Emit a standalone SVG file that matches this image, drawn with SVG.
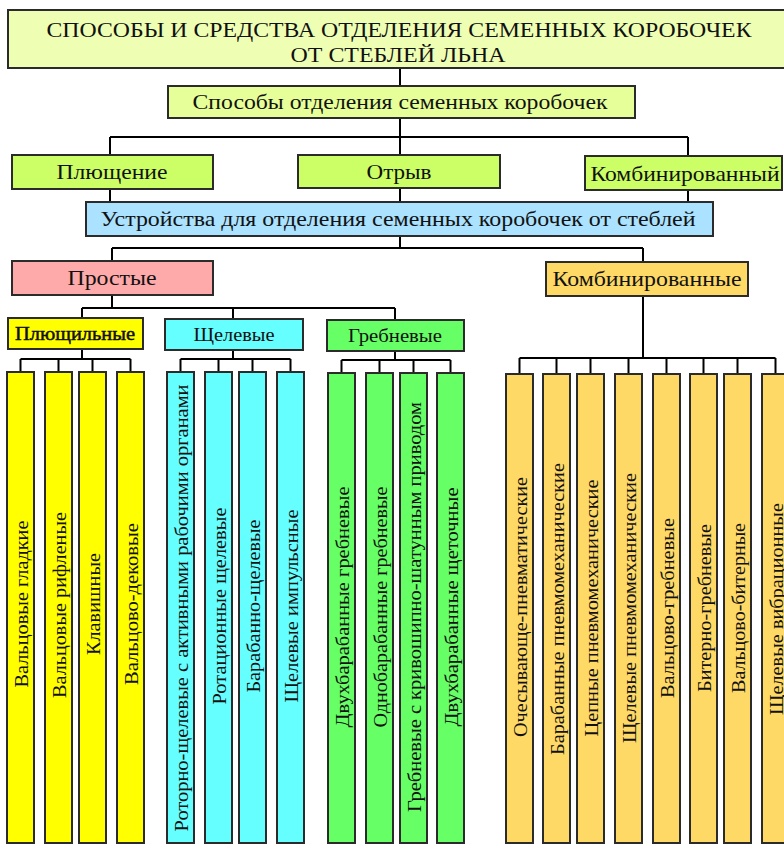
<svg xmlns="http://www.w3.org/2000/svg" width="784" height="845" viewBox="0 0 784 845">
<style>
  .b { stroke: #2b2b2b; stroke-width: 2; }
  .t { font-family: "Liberation Serif", "DejaVu Serif", serif; fill: #111; text-anchor: middle; }
  .h { font-size: 22px; }
  .s { font-size: 19px; }
  .v { font-size: 19px; }
  .c { fill: none; stroke: #000; stroke-width: 2; }
  .lg { fill: #EEFFB4; } .lg2 { fill: #E6FF99; } .gy { fill: #CCFF66; }
  .bl { fill: #AAE2FF; } .pk { fill: #FFAAAA; } .or { fill: #FFD966; }
  .ye { fill: #FFFF00; } .cy { fill: #66FFFF; } .gr { fill: #66FF66; }
</style>
<rect width="784" height="845" fill="#fff"/>
<g id="connectors" class="c">
  <path d="M400 68V86M400 118V137M110 137H688M110 137V155M400 137V155M688 137V156"/>
  <path d="M110 189V202M400 188V202M688 190V202"/>
  <path d="M400 236V248M112 248H643M112 248V261M643 248V262"/>
  <path d="M112 295V308M82 308H395M82 308V318M233 308V319M395 308V320"/>
  <path d="M82 349V359M20.5 359H130.5M20.5 359V372M58.5 359V372M92.5 359V372M130.5 359V372"/>
  <path d="M233 350V359M180.5 359H290.5M180.5 359V372M218.5 359V372M252.5 359V372M290.5 359V372"/>
  <path d="M395 351V360M341.5 360H450.5M341.5 360V373M379.5 360V373M413.5 360V373M450.5 360V373"/>
  <path d="M643 296V358M519.5 358H775.5M519.5 358V374M556.5 358V374M590.5 358V374M628.5 358V374M666.5 358V374M703.5 358V374M737.5 358V374M775.5 358V374"/>
</g>
<g id="title"><rect class="b lg" x="8" y="10" width="790" height="58"/>
  <text class="t h" x="399" y="37" textLength="705" lengthAdjust="spacingAndGlyphs">СПОСОБЫ И СРЕДСТВА ОТДЕЛЕНИЯ СЕМЕННЫХ КОРОБОЧЕК</text>
  <text class="t h" x="398" y="62" textLength="215" lengthAdjust="spacingAndGlyphs">ОТ СТЕБЛЕЙ ЛЬНА</text></g>
<g id="methods"><rect class="b lg2" x="168" y="86" width="467" height="32"/>
  <text class="t h" x="400" y="109" textLength="415" lengthAdjust="spacingAndGlyphs">Способы отделения семенных коробочек</text></g>
<g id="flatten"><rect class="b gy" x="12" y="155" width="201" height="34"/>
  <text class="t h" x="112" y="179" textLength="111" lengthAdjust="spacingAndGlyphs">Плющение</text></g>
<g id="tear"><rect class="b gy" x="298" y="155" width="202" height="33"/>
  <text class="t h" x="399" y="179" textLength="65" lengthAdjust="spacingAndGlyphs">Отрыв</text></g>
<g id="combined-method"><rect class="b gy" x="585" y="156" width="197" height="34"/>
  <text class="t h" x="685" y="181" textLength="189" lengthAdjust="spacingAndGlyphs">Комбинированный</text></g>
<g id="devices"><rect class="b bl" x="86" y="202" width="627" height="34"/>
  <text class="t h" x="398" y="226" textLength="595" lengthAdjust="spacingAndGlyphs">Устройства для отделения семенных коробочек от стеблей</text></g>
<g id="simple"><rect class="b pk" x="12" y="261" width="201" height="34"/>
  <text class="t h" x="112" y="285" textLength="89" lengthAdjust="spacingAndGlyphs">Простые</text></g>
<g id="combined"><rect class="b or" x="546" y="262" width="202" height="34"/>
  <text class="t h" x="647" y="286" textLength="189" lengthAdjust="spacingAndGlyphs">Комбинированные</text></g>
<g id="flattening"><rect class="b ye" x="8" y="318" width="135" height="31"/>
  <text class="t s" x="75" y="340" stroke="#111" stroke-width="0.5" textLength="120" lengthAdjust="spacingAndGlyphs">Плющильные</text></g>
<g id="slot"><rect class="b cy" x="165" y="319" width="138" height="31"/>
  <text class="t s" x="234" y="341" textLength="81" lengthAdjust="spacingAndGlyphs">Щелевые</text></g>
<g id="comb"><rect class="b gr" x="327" y="320" width="137" height="31"/>
  <text class="t s" x="395" y="342" textLength="94" lengthAdjust="spacingAndGlyphs">Гребневые</text></g>

<g id="y1"><rect class="b ye" x="7" y="372" width="27" height="471"/><text class="t v" transform="translate(27.5 604) rotate(-90)" textLength="167" lengthAdjust="spacingAndGlyphs">Вальцовые гладкие</text></g>
<g id="y2"><rect class="b ye" x="45" y="372" width="27" height="471"/><text class="t v" transform="translate(65.5 605) rotate(-90)" textLength="186" lengthAdjust="spacingAndGlyphs">Вальцовые рифленые</text></g>
<g id="y3"><rect class="b ye" x="79" y="372" width="27" height="471"/><text class="t v" transform="translate(99.5 604) rotate(-90)" textLength="102" lengthAdjust="spacingAndGlyphs">Клавишные</text></g>
<g id="y4"><rect class="b ye" x="117" y="372" width="27" height="471"/><text class="t v" transform="translate(137.5 604) rotate(-90)" textLength="162" lengthAdjust="spacingAndGlyphs">Вальцово-дековые</text></g>

<g id="c1"><rect class="b cy" x="167" y="372" width="27" height="471"/><text class="t v" transform="translate(187.5 608) rotate(-90)" textLength="447" lengthAdjust="spacingAndGlyphs">Роторно-щелевые с активными рабочими органами</text></g>
<g id="c2"><rect class="b cy" x="205" y="372" width="27" height="471"/><text class="t v" transform="translate(225.5 606) rotate(-90)" textLength="197" lengthAdjust="spacingAndGlyphs">Ротационные щелевые</text></g>
<g id="c3"><rect class="b cy" x="239" y="372" width="27" height="471"/><text class="t v" transform="translate(259.5 606) rotate(-90)" textLength="173" lengthAdjust="spacingAndGlyphs">Барабанно-щелевые</text></g>
<g id="c4"><rect class="b cy" x="277" y="372" width="27" height="471"/><text class="t v" transform="translate(297.5 606) rotate(-90)" textLength="193" lengthAdjust="spacingAndGlyphs">Щелевые импульсные</text></g>

<g id="g1"><rect class="b gr" x="328" y="373" width="27" height="470"/><text class="t v" transform="translate(348.5 607) rotate(-90)" textLength="241" lengthAdjust="spacingAndGlyphs">Двухбарабанные гребневые</text></g>
<g id="g2"><rect class="b gr" x="366" y="373" width="27" height="470"/><text class="t v" transform="translate(386.5 607) rotate(-90)" textLength="241" lengthAdjust="spacingAndGlyphs">Однобарабанные гребневые</text></g>
<g id="g3"><rect class="b gr" x="400" y="373" width="27" height="470"/><text class="t v" transform="translate(420.5 607) rotate(-90)" textLength="410" lengthAdjust="spacingAndGlyphs">Гребневые с кривошипно-шатунным приводом</text></g>
<g id="g4"><rect class="b gr" x="437" y="373" width="27" height="470"/><text class="t v" transform="translate(457.5 607) rotate(-90)" textLength="239" lengthAdjust="spacingAndGlyphs">Двухбарабанные щеточные</text></g>

<g id="o1"><rect class="b or" x="506" y="374" width="27" height="469"/><text class="t v" transform="translate(526.5 607) rotate(-90)" textLength="260" lengthAdjust="spacingAndGlyphs">Очесывающе-пневматические</text></g>
<g id="o2"><rect class="b or" x="543" y="374" width="27" height="469"/><text class="t v" transform="translate(563.5 609) rotate(-90)" textLength="292" lengthAdjust="spacingAndGlyphs">Барабанные пневмомеханические</text></g>
<g id="o3"><rect class="b or" x="577" y="374" width="27" height="469"/><text class="t v" transform="translate(597.5 608) rotate(-90)" textLength="257" lengthAdjust="spacingAndGlyphs">Цепные пневмомеханические</text></g>
<g id="o4"><rect class="b or" x="615" y="374" width="27" height="469"/><text class="t v" transform="translate(635.5 608) rotate(-90)" textLength="270" lengthAdjust="spacingAndGlyphs">Щелевые пневмомеханические</text></g>
<g id="o5"><rect class="b or" x="653" y="374" width="27" height="469"/><text class="t v" transform="translate(673.5 608) rotate(-90)" textLength="180" lengthAdjust="spacingAndGlyphs">Вальцово-гребневые</text></g>
<g id="o6"><rect class="b or" x="690" y="374" width="27" height="469"/><text class="t v" transform="translate(710.5 608) rotate(-90)" textLength="168" lengthAdjust="spacingAndGlyphs">Битерно-гребневые</text></g>
<g id="o7"><rect class="b or" x="724" y="374" width="27" height="469"/><text class="t v" transform="translate(744.5 608) rotate(-90)" textLength="170" lengthAdjust="spacingAndGlyphs">Вальцово-битерные</text></g>
<g id="o8"><rect class="b or" x="762" y="374" width="27" height="469"/><text class="t v" transform="translate(782.5 609) rotate(-90)" textLength="212" lengthAdjust="spacingAndGlyphs">Щелевые вибрационные</text></g>
</svg>
